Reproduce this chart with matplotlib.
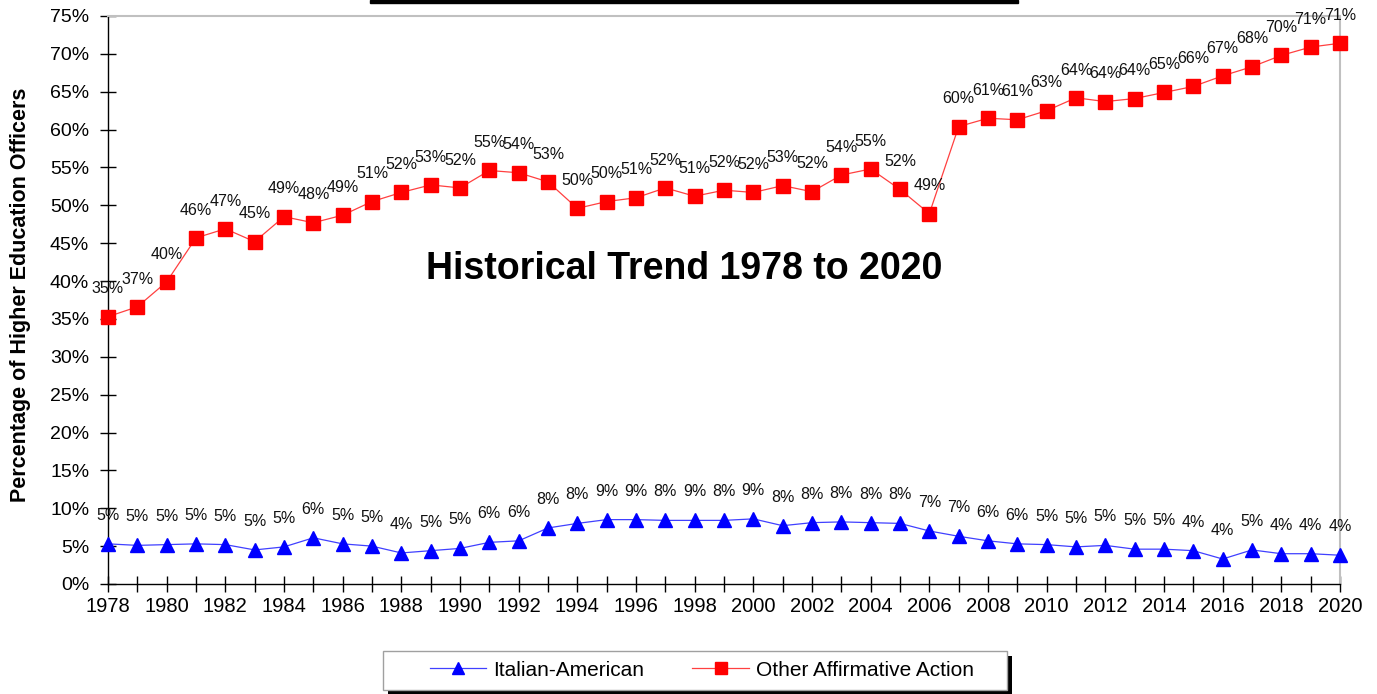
import matplotlib.pyplot as plt
from matplotlib.ticker import MultipleLocator, FuncFormatter
from matplotlib.patches import Rectangle

plt.rcParams['font.family'] = ['Liberation Sans', 'DejaVu Sans']

years = list(range(1978, 2021))

italian = [5.3, 5.1, 5.2, 5.3, 5.2, 4.5, 4.9, 6.1, 5.3, 5.0, 4.1, 4.4, 4.7,
           5.5, 5.7, 7.4, 8.0, 8.5, 8.5, 8.4, 8.4, 8.4, 8.6, 7.7, 8.1, 8.2,
           8.1, 8.0, 7.0, 6.3, 5.7, 5.3, 5.2, 4.9, 5.1, 4.6, 4.6, 4.4, 3.3,
           4.5, 4.0, 4.0, 3.8]
italianLabels = [5, 5, 5, 5, 5, 5, 5, 6, 5, 5, 4, 5, 5, 6, 6,
                 8, 8, 9, 9, 8, 9, 8, 9, 8, 8, 8, 8, 8,
                 7, 7, 6, 6, 5, 5, 5, 5, 5, 4, 4, 5, 4, 4, 4]

other = [35.3, 36.6, 39.9, 45.7, 46.9, 45.2, 48.5, 47.7, 48.7, 50.5, 51.7,
         52.7, 52.3, 54.6, 54.3, 53.1, 49.6, 50.5, 51.0, 52.3, 51.2, 52.0,
         51.7, 52.6, 51.8, 54.0, 54.8, 52.1, 48.9, 60.4, 61.5, 61.3, 62.5,
         64.2, 63.7, 64.1, 64.9, 65.7, 67.1, 68.3, 69.8, 70.9, 71.4]
otherLabels = [35, 37, 40, 46, 47, 45, 49, 48, 49, 51, 52, 53, 52, 55, 54,
               53, 50, 50, 51, 52, 51, 52, 52, 53, 52, 54, 55, 52, 49, 60,
               61, 61, 63, 64, 64, 64, 65, 66, 67, 68, 70, 71, 71]

W, H = 1377, 694
fig = plt.figure(figsize=(W / 100, H / 100), dpi=100)
ax = fig.add_axes([108 / W, 1 - 584 / H, 1232 / W, 568 / H])

l1, = ax.plot(years, italian, color='#4040ff', linewidth=0.9, marker='^',
              markersize=10, markerfacecolor='#0000ff', markeredgecolor='#0000ff',
              label='Italian-American', clip_on=False, zorder=3)
l2, = ax.plot(years, other, color='#ff4040', linewidth=0.9, marker='s',
              markersize=10, markerfacecolor='#ff0000', markeredgecolor='#ff0000',
              label='Other Affirmative Action', clip_on=False, zorder=3)

for x, y, t in zip(years, italian, italianLabels):
    ax.annotate(str(t) + '%', (x, y), xytext=(0, 20.5), textcoords='offset points',
                ha='center', va='center', fontsize=11.5, color='#111111')
for x, y, t in zip(years, other, otherLabels):
    ax.annotate(str(t) + '%', (x, y), xytext=(0, 20), textcoords='offset points',
                ha='center', va='center', fontsize=11.5, color='#111111')

ax.set_xlim(1978, 2020)
ax.set_ylim(0, 75)
ax.yaxis.set_major_locator(MultipleLocator(5))
ax.yaxis.set_major_formatter(FuncFormatter(lambda v, p: '%d%%' % v))
ax.xaxis.set_major_locator(MultipleLocator(2))
ax.xaxis.set_minor_locator(MultipleLocator(1))
ax.xaxis.set_major_formatter(FuncFormatter(lambda v, p: '%d' % v))
ax.tick_params(axis='both', which='both', direction='inout', length=11, width=1)
ax.tick_params(axis='y', labelsize=14, pad=8)
ax.tick_params(axis='x', labelsize=14.5, pad=4)

for s in ['top', 'right']:
    ax.spines[s].set_color('#c0c0c0')
    ax.spines[s].set_linewidth(1.5)
for s in ['left', 'bottom']:
    ax.spines[s].set_color('black')
    ax.spines[s].set_linewidth(1)

ax.set_ylabel('Percentage of Higher Education Officers', fontsize=15.5,
              fontweight='bold')
ax.yaxis.set_label_coords((31 - 108) / 1232, 0.51)

ax.text(0.468, 0.555, 'Historical Trend 1978 to 2020', transform=ax.transAxes,
        ha='center', va='center', fontsize=27, fontweight='bold')

# legend box with black drop shadow
fig.add_artist(Rectangle((388 / W, 1 - 695 / H), 624 / W, 39 / H,
                         transform=fig.transFigure, facecolor='black',
                         edgecolor='none', zorder=4))
fig.add_artist(Rectangle((383 / W, 1 - 690 / H), 624 / W, 39 / H,
                         transform=fig.transFigure, facecolor='white',
                         edgecolor='#a0a0a0', linewidth=1, zorder=5))
leg = fig.legend(handles=[l1, l2], loc='center',
                 bbox_to_anchor=(702 / W, 1 - 670 / H), ncol=2, fontsize=15,
                 frameon=False, handlelength=2.7, columnspacing=2.3,
                 handletextpad=0.35, borderaxespad=0, markerscale=0.8)
leg.set_zorder(6)

# clipped border at the top of the picture
fig.add_artist(Rectangle((370 / W, 1 - 3 / H), 648 / W, 3 / H,
                         transform=fig.transFigure, color='black'))

fig.savefig('out.png', dpi=100)
